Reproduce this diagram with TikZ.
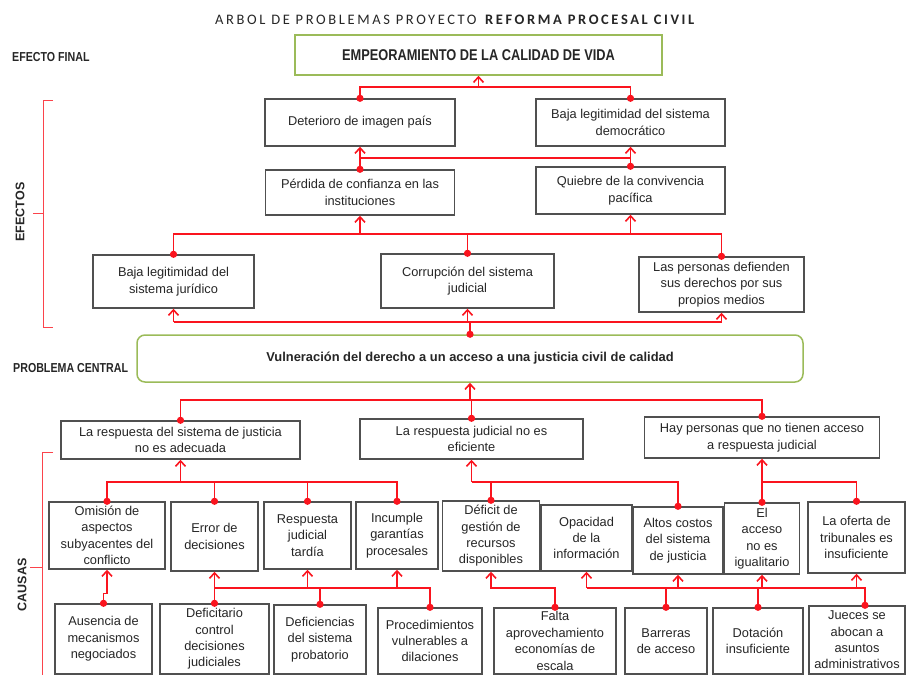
\documentclass[tikz,border=0pt]{standalone}
\usepackage{fontspec}
\setmainfont{Liberation Sans}
\newfontfamily\narrowfont{Liberation Sans}[FakeStretch=0.82]
\newfontfamily\titlefont{Carlito}[LetterSpace=18]
\usetikzlibrary{arrows.meta,calc}
\definecolor{conred}{RGB}{250,20,30}
\definecolor{framegray}{RGB}{80,80,80}
\definecolor{framegreen}{RGB}{155,187,89}
\definecolor{inktext}{RGB}{38,38,38}
\tikzset{
  cbox/.style={draw=framegray, line width=1.4pt, fill=white, align=center, text=inktext,
    inner sep=1pt, font=\fontsize{12.8}{16.4}\selectfont},
  gbox/.style={draw=framegreen, line width=1.5pt, fill=white, align=center, text=inktext, inner sep=1pt},
  link/.style={draw=conred, line width=1.6pt},
  uplink/.style={link, -{Straight Barb[length=5.5pt,width=10pt]}},
  bracket/.style={draw=conred!80!white, line width=1pt},
  sidelabel/.style={text=inktext, font={\narrowfont\bfseries\fontsize{13}{15}\selectfont}, anchor=west, inner sep=0pt},
  vlabel/.style={text=inktext, font={\bfseries\fontsize{12.5}{14}\selectfont}, rotate=90, inner sep=0pt}
}
\newcommand\jdot[1]{\fill[conred] (#1) circle (3.6pt);}
\begin{document}
\begin{tikzpicture}[x=1pt,y=-1pt]
\useasboundingbox (0,0) rectangle (911,675);

% title and side labels
\node[text=inktext] (title) at (456,20) {\titlefont\fontsize{14.5}{16}\selectfont ARBOL DE PROBLEMAS PROYECTO \textbf{REFORMA PROCESAL CIVIL}};
\node[sidelabel] (lfinal) at (12,57) {EFECTO FINAL};
\node[sidelabel] (lcentral) at (13,368) {PROBLEMA CENTRAL};
\node[vlabel] (lefectos) at (20,212) {EFECTOS};
\node[vlabel] (lcausas) at (22,585) {CAUSAS};

% brackets
\draw[bracket] (53,100) -- (43,100) -- (43,327) -- (53,327);
\draw[bracket] (43,213) -- (33,213);
\draw[bracket] (53,452) -- (42,452) -- (42,680);
\draw[bracket] (42,567) -- (30,567);

% final effect
\node[gbox, minimum width=367pt, minimum height=40pt, font={\narrowfont\bfseries\fontsize{15.6}{17}\selectfont}] (efinal) at (478.5,55) {EMPEORAMIENTO DE LA CALIDAD DE VIDA};

% effects
\node[cbox, minimum width=190pt, minimum height=47pt] (det) at (360,122.5) {Deterioro de imagen país};
\node[cbox, minimum width=189pt, minimum height=47pt] (bdem) at (630.5,122.5) {Baja legitimidad del sistema\\democrático};
\node[cbox, minimum width=189pt, minimum height=45pt] (perd) at (360,192.5) {Pérdida de confianza en las\\instituciones};
\node[cbox, minimum width=189pt, minimum height=47pt] (quie) at (630.5,190.5) {Quiebre de la convivencia\\pacífica};
\node[cbox, minimum width=161pt, minimum height=53pt] (bjur) at (173.5,281.5) {Baja legitimidad del\\sistema jurídico};
\node[cbox, minimum width=173pt, minimum height=54pt] (corr) at (467.5,281) {Corrupción del sistema\\judicial};
\node[cbox, minimum width=165pt, minimum height=55pt] (pers) at (721.5,284.5) {Las personas defienden\\sus derechos por sus\\propios medios};

% central problem
\node[gbox, rounded corners=8pt, minimum width=666pt, minimum height=47pt, font={\bfseries\fontsize{12.9}{14}\selectfont}] (cent) at (470,358.5) {Vulneración del derecho a un acceso a una justicia civil de calidad};

% direct causes
\node[cbox, minimum width=239pt, minimum height=38pt] (c1) at (180.5,440) {La respuesta del sistema de justicia\\no es adecuada};
\node[cbox, minimum width=223pt, minimum height=40pt] (c2) at (471.5,439) {La respuesta judicial no es\\eficiente};
\node[cbox, minimum width=235pt, minimum height=41pt] (c3) at (762,437.5) {Hay personas que no tienen acceso\\a respuesta judicial};

% second level causes
\node[cbox, minimum width=116pt, minimum height=67pt] (omi) at (107,535.5) {Omisión de\\aspectos\\subyacentes del\\conflicto};
\node[cbox, minimum width=87pt, minimum height=69pt] (err) at (214.5,536.5) {Error de\\decisiones};
\node[cbox, minimum width=87pt, minimum height=67pt] (resp) at (307.5,535.5) {Respuesta\\judicial\\tardía};
\node[cbox, minimum width=82pt, minimum height=67pt] (inc) at (397,535.5) {Incumple\\garantías\\procesales};
\node[cbox, minimum width=97pt, minimum height=70pt] (defi) at (491,536) {Déficit de\\gestión de\\recursos\\disponibles};
\node[cbox, minimum width=91pt, minimum height=66pt] (opa) at (586.5,538) {Opacidad\\de la\\información};
\node[cbox, minimum width=90pt, minimum height=67pt] (alt) at (678,540.5) {Altos costos\\del sistema\\de justicia};
\node[cbox, minimum width=75pt, minimum height=71pt] (acc) at (762,538.5) {El\\acceso\\no es\\igualitario};
\node[cbox, minimum width=97pt, minimum height=71pt] (ofe) at (856.5,537.5) {La oferta de\\tribunales es\\insuficiente};

% third level causes
\node[cbox, minimum width=97pt, minimum height=70pt] (aus) at (103.5,639) {Ausencia de\\mecanismos\\negociados};
\node[cbox, minimum width=109pt, minimum height=70pt] (dctl) at (214.5,639) {Deficitario\\control\\decisiones\\judiciales};
\node[cbox, minimum width=92pt, minimum height=69pt] (dsp) at (320,639.5) {Deficiencias\\del sistema\\probatorio};
\node[cbox, minimum width=104pt, minimum height=66pt] (proc) at (430,641) {Procedimientos\\vulnerables a\\dilaciones};
\node[cbox, minimum width=122pt, minimum height=66pt] (falta) at (555,641) {Falta\\aprovechamiento\\economías de\\escala};
\node[cbox, minimum width=82pt, minimum height=66pt] (barr) at (666,641) {Barreras\\de acceso};
\node[cbox, minimum width=90pt, minimum height=66pt] (dota) at (758,641) {Dotación\\insuficiente};
\node[cbox, minimum width=96pt, minimum height=68pt] (juec) at (857,640) {Jueces se\\abocan a\\asuntos\\administrativos};

% bus levels
\coordinate (y1) at (0,87);
\coordinate (y2) at (0,158);
\coordinate (y3) at (0,234);
\coordinate (y4) at (0,322);
\coordinate (y5) at (0,400);
\coordinate (y6) at (0,482);
\coordinate (y7) at (0,588);
\coordinate (jd) at ($(juec.north)+(8,0)$);

% effects tree
\draw[link] (det.north) -- (det.north |- y1) -- (bdem.north |- y1) -- (bdem.north);
\draw[uplink] (efinal.south |- y1) -- (efinal.south);
\draw[uplink] (perd.north) -- (det.south);
\draw[uplink] (quie.north) -- (bdem.south);
\draw[link] (det.south |- y2) -- (bdem.south |- y2);
\draw[link] (bjur.north) -- (bjur.north |- y3) -- (pers.north |- y3) -- (pers.north);
\draw[link] (corr.north) -- (corr.north |- y3);
\draw[uplink] (perd.south |- y3) -- (perd.south);
\draw[uplink] (quie.south |- y3) -- (quie.south);
\draw[link] (bjur.south |- y4) -- (pers.south |- y4);
\draw[uplink] (bjur.south |- y4) -- (bjur.south);
\draw[uplink] (corr.south |- y4) -- (corr.south);
\draw[uplink] (pers.south |- y4) -- (pers.south);
\draw[link] (cent.north) -- (cent.north |- y4);

% causes tree
\draw[uplink] (cent.south |- y5) -- (cent.south);
\draw[link] (c1.north) -- (c1.north |- y5) -- (c3.north |- y5) -- (c3.north);
\draw[link] (c2.north) -- (c2.north |- y5);

\draw[uplink] (c1.south |- y6) -- (c1.south);
\draw[link] (omi.north) -- (omi.north |- y6) -- (inc.north |- y6) -- (inc.north);
\draw[link] (err.north) -- (err.north |- y6);
\draw[link] (resp.north) -- (resp.north |- y6);
\draw[uplink] (c2.south |- y6) -- (c2.south);
\draw[link] (c2.south |- y6) -- (alt.north |- y6) -- (alt.north);
\draw[link] (defi.north) -- (defi.north |- y6);
\draw[uplink] (acc.north) -- (c3.south);
\draw[link] (c3.south |- y6) -- (ofe.north |- y6) -- (ofe.north);

\draw[uplink] (aus.north) -- ++(0,-10) -| (omi.south);
\draw[link] (err.south |- y7) -- (proc.north |- y7) -- (proc.north);
\draw[uplink] (err.south |- y7) -- (err.south);
\draw[uplink] (resp.south |- y7) -- (resp.south);
\draw[uplink] (inc.south |- y7) -- (inc.south);
\draw[link] (dctl.north) -- (dctl.north |- y7);
\draw[link] (dsp.north) -- (dsp.north |- y7);
\draw[uplink] (falta.north) -- (falta.north |- y7) -| (defi.south);
\draw[link] (opa.south |- y7) -- (jd |- y7) -- (jd);
\draw[uplink] (opa.south |- y7) -- (opa.south);
\draw[uplink] (alt.south |- y7) -- (alt.south);
\draw[uplink] (acc.south |- y7) -- (acc.south);
\draw[uplink] (ofe.south |- y7) -- (ofe.south);
\draw[link] (barr.north) -- (barr.north |- y7);
\draw[link] (dota.north) -- (dota.north |- y7);

% junction dots
\foreach \n in {det,bdem,perd,quie,bjur,corr,pers,cent,c1,c2,c3,omi,err,resp,inc,defi,alt,acc,ofe,aus,dctl,dsp,proc,falta,barr,dota}
  {\jdot{\n.north}}
\jdot{jd}
\end{tikzpicture}
\end{document}
